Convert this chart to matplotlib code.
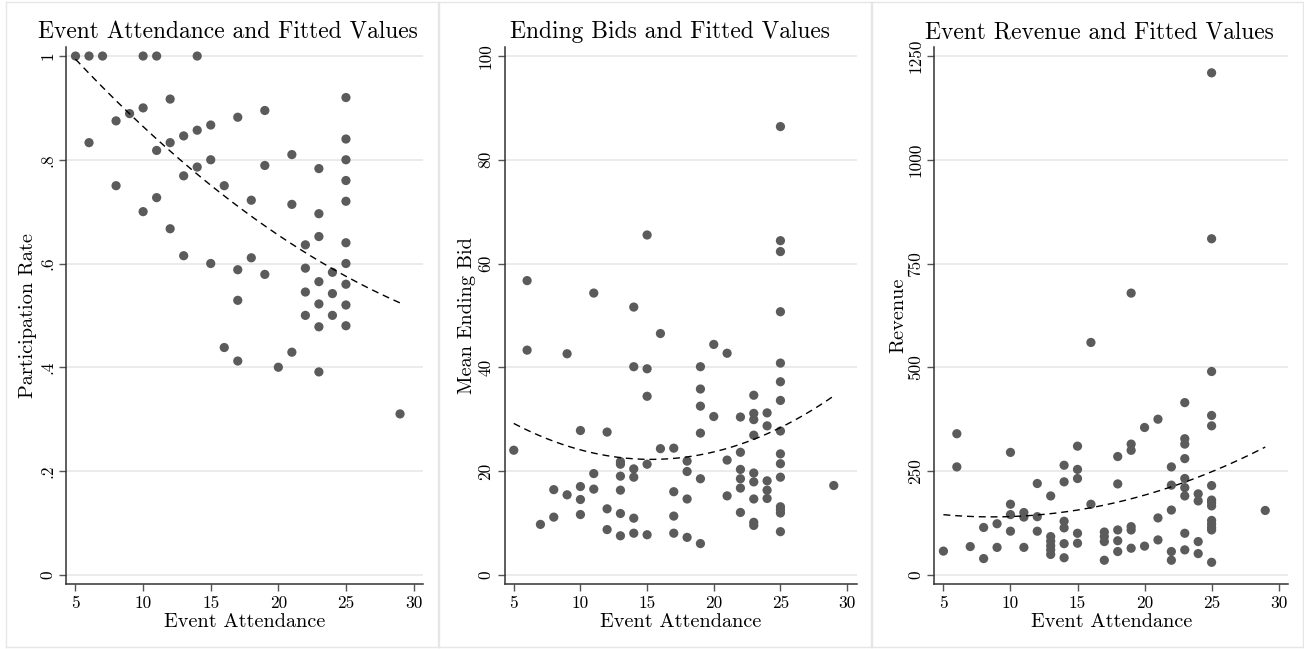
import numpy as np
import matplotlib
matplotlib.use("Agg")
import matplotlib.pyplot as plt
from matplotlib.lines import Line2D

plt.rcParams['font.family'] = ['cmr10', 'DejaVu Serif']
plt.rcParams['axes.unicode_minus'] = False
plt.rcParams['mathtext.fontset'] = 'cm'

# participation rate vs attendance
att1 = [5, 6, 6, 7, 8, 8, 9, 10, 10, 10, 11, 11, 11, 12, 12, 12, 13, 13, 13,
        14, 14, 14, 15, 15, 15, 16, 16, 17, 17, 17, 17, 18, 18, 19, 19, 19, 20,
        21, 21, 21, 22, 22, 22, 22, 23, 23, 23, 23, 23, 23, 23, 24, 24, 24,
        25, 25, 25, 25, 25, 25, 25, 25, 25, 25, 29]
part = [1.0, 1.0, 0.833, 1.0, 0.875, 0.75, 0.889, 1.0, 0.9, 0.7, 1.0, 0.818, 0.727,
        0.917, 0.833, 0.667, 0.846, 0.769, 0.615, 1.0, 0.857, 0.786, 0.867, 0.8, 0.6,
        0.75, 0.438, 0.882, 0.588, 0.529, 0.412, 0.722, 0.611, 0.895, 0.789, 0.579,
        0.4, 0.81, 0.714, 0.429, 0.636, 0.591, 0.545, 0.5, 0.783, 0.696, 0.652, 0.565,
        0.522, 0.478, 0.391, 0.583, 0.542, 0.5, 0.92, 0.84, 0.8, 0.76, 0.72, 0.64,
        0.6, 0.56, 0.52, 0.48, 0.31]

# mean ending bid vs attendance
att2 = [5, 6, 6, 7, 8, 8, 9, 9, 10, 10, 10, 10, 11, 11, 11, 12, 12, 12,
        13, 13, 13, 13, 13, 13, 14, 14, 14, 14, 14, 14, 15, 15, 15, 15, 15,
        16, 16, 17, 17, 17, 17, 18, 18, 18, 18, 19, 19, 19, 19, 19, 19, 20, 20,
        21, 21, 21, 22, 22, 22, 22, 22, 22, 23, 23, 23, 23, 23, 23, 23, 23, 23,
        24, 24, 24, 24, 24, 25, 25, 25, 25, 25, 25, 25, 25, 25, 25, 25, 25, 25,
        25, 25, 29]
bid = [24.0, 56.7, 43.3, 9.7, 16.4, 11.1, 42.6, 15.4, 27.8, 17.0, 14.5, 11.6,
       54.3, 19.5, 16.5, 27.5, 12.7, 8.7, 21.8, 21.3, 19.0, 16.3, 11.8, 7.5,
       51.6, 40.1, 20.4, 18.8, 10.9, 8.0, 65.5, 39.7, 34.4, 21.3, 7.7,
       46.5, 24.3, 24.4, 16.0, 11.3, 8.0, 21.9, 19.9, 14.6, 7.2,
       40.1, 35.8, 32.5, 27.3, 18.5, 6.0, 44.4, 30.5, 42.7, 22.1, 15.2,
       30.4, 23.6, 20.3, 18.5, 16.7, 12.0, 34.6, 31.1, 29.9, 26.9, 19.6, 17.9,
       14.6, 10.1, 9.5, 31.2, 28.7, 18.1, 16.3, 14.7,
       86.4, 64.4, 62.3, 50.7, 40.8, 37.2, 33.6, 27.7, 23.3, 21.4, 18.8, 13.1,
       12.5, 11.9, 8.3, 17.2]

# event revenue vs attendance
att3 = [5, 6, 6, 7, 8, 8, 9, 9, 10, 10, 10, 10, 11, 11, 11, 12, 12, 12,
        13, 13, 13, 13, 13, 13, 14, 14, 14, 14, 14, 14, 15, 15, 15, 15, 15,
        16, 16, 17, 17, 17, 17, 18, 18, 18, 18, 18, 19, 19, 19, 19, 19, 19,
        20, 20, 21, 21, 21, 22, 22, 22, 22, 22, 23, 23, 23, 23, 23, 23, 23, 23, 23,
        24, 24, 24, 24, 25, 25, 25, 25, 25, 25, 25, 25, 25, 25, 25, 25, 25, 25, 29]
rev = [57, 340, 260, 68, 114, 39, 123, 66, 295, 170, 145, 105, 150, 139, 66,
       220, 140, 105, 190, 92, 81, 70, 60, 49, 264, 224, 129, 113, 75, 41,
       310, 254, 232, 100, 76, 560, 170, 103, 92, 80, 35, 285, 219, 108, 82, 56,
       679, 315, 300, 116, 108, 64, 355, 69, 375, 137, 84, 260, 216, 156, 56, 35,
       415, 328, 315, 280, 232, 210, 190, 100, 60, 195, 178, 80, 51,
       1210, 810, 490, 384, 359, 215, 180, 174, 166, 131, 122, 114, 108, 30, 155]

# fitted values (quadratic fit through them)
fitx1 = [5, 13, 15, 22, 29]
fity1 = [0.994, 0.794, 0.751, 0.621, 0.524]
fitx2 = [5, 10, 15, 22, 29]
fity2 = [29.1, 24.2, 22.2, 25.1, 34.5]
fitx3 = [5, 8, 15, 20, 25, 29]
fity3 = [144.7, 139.8, 156, 192, 248, 308]

xticks = [5, 10, 15, 20, 25, 30]
yt1 = [0, 0.2, 0.4, 0.6, 0.8, 1.0]
yl1 = ['0', '.2', '.4', '.6', '.8', '1']
yt2 = [0, 20, 40, 60, 80, 100]
yt3 = [0, 250, 500, 750, 1000, 1250]

W, H = 1304, 649
fig = plt.figure(figsize=(W / 100, H / 100), dpi=100)

# panel frames
for x0, x1 in [(6, 438), (439, 871), (872, 1303)]:
    for xs, ys in [([x0, x1], [2, 2]), ([x0, x1], [647, 647]), ([x0, x0], [2, 647]), ([x1, x1], [2, 647])]:
        fig.add_artist(Line2D([v / W for v in xs], [1 - v / H for v in ys], color='#e6e6e6', lw=1))

top, bot = 46.7, 584.3
panels = [
    dict(left=66.3, right=423.3, x=att1, y=part, fx=fitx1, fy=fity1, yt=yt1, yl=yl1, ylim=(-0.0185, 1.018),
         title='Event Attendance and Fitted Values', tx=228, ylab='Participation Rate', lx=28),
    dict(left=504.7, right=856.7, x=att2, y=bid, fx=fitx2, fy=fity2, yt=yt2, yl=[str(v) for v in yt2],
         ylim=(-1.85, 101.8), title='Ending Bids and Fitted Values', tx=670, ylab='Mean Ending Bid', lx=466.7),
    dict(left=934.3, right=1288.3, x=att3, y=rev, fx=fitx3, fy=fity3, yt=yt3, yl=[str(v) for v in yt3],
         ylim=(-23, 1273), title='Event Revenue and Fitted Values', tx=1099, ylab='Revenue', lx=898),
]

for p in panels:
    ax = fig.add_axes([p['left'] / W, 1 - bot / H, (p['right'] - p['left']) / W, (bot - top) / H])
    ax.scatter(p['x'], p['y'], s=44, color='#5b5b5b', edgecolors='none', zorder=3)
    c = np.polyfit(p['fx'], p['fy'], 2)
    xf = np.linspace(min(p['fx']), max(p['fx']), 200)
    ax.plot(xf, np.polyval(c, xf), color='black', lw=1, ls=(0, (5, 3.5)), zorder=4)
    ax.set_xlim(4.32, 30.72)
    ax.set_ylim(*p['ylim'])
    ax.set_xticks(xticks)
    ax.set_xticklabels([str(v) for v in xticks])
    ax.set_yticks(p['yt'])
    ax.set_yticklabels(p['yl'], rotation=90, va='center')
    ax.grid(axis='y', color='#e8e8e8', lw=1.2)
    ax.set_axisbelow(True)
    for s in ['top', 'right']:
        ax.spines[s].set_visible(False)
    for s in ['left', 'bottom']:
        ax.spines[s].set_color('#333333')
        ax.spines[s].set_linewidth(1.1)
    ax.tick_params(axis='both', direction='out', length=5, width=1, color='#555555',
                   labelsize=12.5, pad=3)
    ax.text(0.5, -(621.7 - bot) / (bot - top), 'Event Attendance', transform=ax.transAxes,
            ha='center', va='center', fontsize=14.6)
    fig.text(p['lx'] / W, 1 - 315.5 / H, p['ylab'], rotation=90, ha='center', va='center', fontsize=14.6)
    fig.text(p['tx'] / W, 1 - 32 / H, p['title'], ha='center', va='center', fontsize=16.9)

fig.savefig('out.png', dpi=100)
